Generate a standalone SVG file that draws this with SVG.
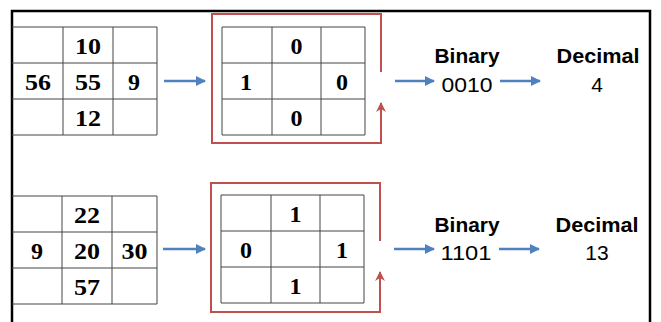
<svg xmlns="http://www.w3.org/2000/svg" width="661" height="322" viewBox="0 0 661 322">
<defs>
<style>
.frame{fill:none;stroke:#000;stroke-width:2.5}
.grid{fill:none;stroke:#444;stroke-width:1}
.red{fill:none;stroke:#c0504d;stroke-width:2}
.blue{fill:none;stroke:#4f81bd;stroke-width:2.5}
.g{font-family:"Liberation Serif","Times New Roman",serif;font-weight:bold;font-size:24px;text-anchor:middle;fill:#000}
.hb{font-family:"Liberation Sans",Arial,sans-serif;font-weight:bold;font-size:20px;text-anchor:middle;fill:#000}
.hn{font-family:"Liberation Sans",Arial,sans-serif;font-size:21px;text-anchor:middle;fill:#000}
</style>
<marker id="ab" viewBox="0 0 10 10" refX="9" refY="5" markerWidth="4" markerHeight="4" orient="auto" markerUnits="strokeWidth">
<path d="M0,0 L10,5 L0,10 z" fill="#4f81bd"/>
</marker>
<marker id="ar" viewBox="0 0 10 10" refX="9" refY="5" markerWidth="5" markerHeight="5" orient="auto" markerUnits="strokeWidth">
<path d="M0,0 L10,5 L0,10 L3,5 z" fill="#c0504d"/>
</marker>
</defs>
<rect width="661" height="322" fill="#fff"/>
<path class="frame" d="M12,324 V11 H650 V324"/>

<g id="grid-top">
<path class="grid" d="M12,27 H157 M12,63 H157 M12,99 H157 M12,135 H157 M63,27 V135 M113,27 V135 M157,27 V135"/>
<text class="g" x="88" y="53.5" textLength="26" lengthAdjust="spacingAndGlyphs">10</text>
<text class="g" x="38" y="89.5" textLength="26" lengthAdjust="spacingAndGlyphs">56</text>
<text class="g" x="88" y="89.5" textLength="26" lengthAdjust="spacingAndGlyphs">55</text>
<text class="g" x="134" y="89.5">9</text>
<text class="g" x="88" y="125.5" textLength="26" lengthAdjust="spacingAndGlyphs">12</text>
</g>

<g id="lbp-top">
<path class="red" d="M381,72 V14 H212 V143 H381 V106"/>
<path class="grid" d="M222,27 H365 M222,63 H365 M222,99 H365 M222,135 H365 M222,27 V135 M272,27 V135 M321,27 V135 M365,27 V135"/>
<text class="g" x="296.5" y="53.5">0</text>
<text class="g" x="246" y="89.5">1</text>
<text class="g" x="342" y="89.5">0</text>
<text class="g" x="296.5" y="125.5">0</text>
</g>

<g id="bin-top">
<text class="hb" x="467" y="63" textLength="65" lengthAdjust="spacingAndGlyphs">Binary</text>
<text class="hn" x="467" y="92" textLength="51" lengthAdjust="spacingAndGlyphs">0010</text>
</g>
<g id="dec-top">
<text class="hb" x="598" y="63" textLength="83" lengthAdjust="spacingAndGlyphs">Decimal</text>
<text class="hn" x="597" y="92">4</text>
</g>

<g id="grid-bottom">
<path class="grid" d="M12,196 H157 M12,232 H157 M12,268 H157 M12,304 H157 M62,196 V304 M112,196 V304 M157,196 V304"/>
<text class="g" x="87" y="222.5" textLength="26" lengthAdjust="spacingAndGlyphs">22</text>
<text class="g" x="37" y="258.5">9</text>
<text class="g" x="87" y="258.5" textLength="26" lengthAdjust="spacingAndGlyphs">20</text>
<text class="g" x="134.5" y="258.5" textLength="26" lengthAdjust="spacingAndGlyphs">30</text>
<text class="g" x="87" y="294.5" textLength="26" lengthAdjust="spacingAndGlyphs">57</text>
</g>

<g id="lbp-bottom">
<path class="red" d="M380,241 V183 H211 V312 H380 V275"/>
<path class="grid" d="M221,195 H364 M221,231 H364 M221,267 H364 M221,303 H364 M221,195 V303 M271,195 V303 M320,195 V303 M364,195 V303"/>
<text class="g" x="295.5" y="221.5">1</text>
<text class="g" x="246" y="257.5">0</text>
<text class="g" x="342" y="257.5">1</text>
<text class="g" x="295.5" y="293.5">1</text>
</g>

<g id="bin-bottom">
<text class="hb" x="467" y="232" textLength="65" lengthAdjust="spacingAndGlyphs">Binary</text>
<text class="hn" x="466" y="260" textLength="51" lengthAdjust="spacingAndGlyphs">1101</text>
</g>
<g id="dec-bottom">
<text class="hb" x="597" y="232" textLength="83" lengthAdjust="spacingAndGlyphs">Decimal</text>
<text class="hn" x="597" y="260">13</text>
</g>

<g id="connectors">
<path class="blue" marker-end="url(#ab)" d="M164,81 H205"/>
<path class="blue" marker-end="url(#ab)" d="M395,81 H434"/>
<path class="blue" marker-end="url(#ab)" d="M500,81 H540"/>
<path class="blue" marker-end="url(#ab)" d="M163,249 H205"/>
<path class="blue" marker-end="url(#ab)" d="M394,249 H434"/>
<path class="blue" marker-end="url(#ab)" d="M499,249 H539"/>
<path class="red" marker-end="url(#ar)" d="M381,143 V103"/>
<path class="red" marker-end="url(#ar)" d="M380,312 V272"/>
</g>
</svg>
